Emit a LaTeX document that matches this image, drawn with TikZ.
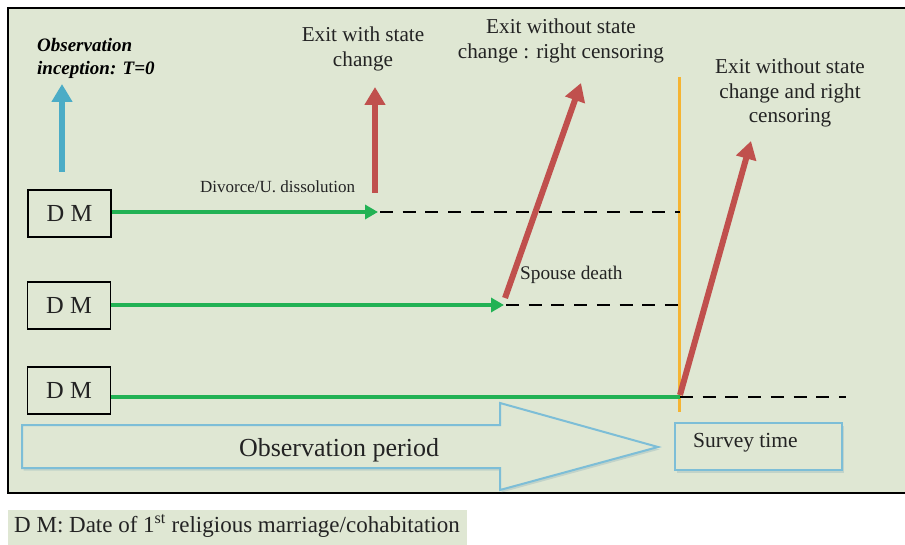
\documentclass[tikz,border=0pt]{standalone}
\usepackage{fontspec}
\setmainfont{Liberation Serif}
\usetikzlibrary{arrows.meta,shadows}
\definecolor{bgg}{RGB}{223,231,211}
\definecolor{grn}{RGB}{34,178,84}
\definecolor{redar}{RGB}{192,80,77}
\definecolor{bluar}{RGB}{75,172,198}
\definecolor{orng}{RGB}{245,180,50}
\definecolor{lblue}{RGB}{125,190,215}
\definecolor{txt}{RGB}{35,35,35}
\tikzset{
  dmbox/.style={draw=black,line width=1.3pt,minimum width=83pt,minimum height=47pt,inner sep=0pt,font=\fontsize{24.5}{26}\selectfont,text=txt},
  greenline/.style={draw=grn,line width=4pt},
  greenarrow/.style={greenline,-{Triangle[length=13pt,width=14pt]}},
  dashline/.style={draw=black,line width=2.6pt,dash pattern=on 13pt off 9.7pt},
  redarrow/.style={draw=redar,line width=6pt,-{Triangle[length=18pt,width=20pt]}},
  bluearrow/.style={draw=bluar,line width=6pt,-{Triangle[length=18pt,width=20pt]}},
  lbl/.style={align=center,font=\fontsize{21.2}{24.5}\selectfont,text=txt,inner sep=0pt},
  shad/.style={drop shadow={opacity=0.3,shadow xshift=1.5pt,shadow yshift=-2.5pt,fill=lblue!60!gray}}
}
\begin{document}
\begin{tikzpicture}[x=1pt,y=-1pt]
\useasboundingbox (0,0) rectangle (905,545);
% background frame
\fill[white] (0,0) rectangle (905,545);
\path[fill=bgg,draw=black,line width=2pt] (8,8) rectangle (915,493);
% legend
\fill[bgg] (8,510) rectangle (467,545);
\node[anchor=west,font=\fontsize{23}{25}\selectfont,text=txt,inner sep=0pt] (legend) at (14,526) {D M: Date of 1\textsuperscript{st} religious marriage/cohabitation};
% big arrow
\path[draw=lblue,line width=2pt,fill=bgg,shad] (22,425) -- (500,425) -- (500,403) -- (658,447) -- (500,490) -- (500,468) -- (22,468) -- cycle;
\node[font=\fontsize{26}{28}\selectfont,text=txt,inner sep=0pt] (period) at (339,450) {Observation period};
% survey box
\node[draw=lblue,line width=2pt,fill=bgg,shad,minimum width=167pt,minimum height=47pt,inner sep=0pt] (survey) at (758.5,446.5) {};
\node[anchor=west,font=\fontsize{21.5}{24}\selectfont,text=txt,inner sep=0pt] (surveytxt) at (693,443) {Survey time};
% orange line
\coordinate (o1) at (679,77);
\coordinate (o2) at (679,412);
\draw[orng,line width=3pt] (o1) -- (o2);
% DM boxes
\node[dmbox] (dm1) at (69.5,213.5) {D M};
\node[dmbox] (dm2) at (69,305.5) {D M};
\node[dmbox] (dm3) at (69,390.5) {D M};
% coordinates
\coordinate (e1) at (378,212);
\coordinate (e2) at (504,305);
\coordinate (e3) at (680,397);
\coordinate (d1) at (680,212);
\coordinate (d2) at (678,305);
\coordinate (d3) at (846,397);
% green lines
\draw[greenarrow] (dm1.east |- e1) -- (e1);
\draw[greenarrow] (dm2.east |- e2) -- (e2);
\draw[greenline] (dm3.east |- e3) -- (e3);
% dashed
\draw[dashline] (e1) ++(2,0) -- (d1);
\draw[dashline] (e2) ++(2,0) -- (d2);
\draw[dashline] (e3) -- (d3);
% arrows
\coordinate (b0) at (62,172);
\coordinate (b1) at (62,84);
\draw[bluearrow] (b0) -- (b1);
\coordinate (ra0) at (375,193);
\coordinate (ra1) at (375,87);
\draw[redarrow] (ra0) -- (ra1);
\coordinate (rb0) at (505,298);
\coordinate (rb1) at (581,83);
\draw[redarrow] (rb0) -- (rb1);
\coordinate (rc0) at (680,395);
\coordinate (rc1) at (751,141);
\draw[redarrow] (rc0) -- (rc1);
% labels
\node[anchor=north west,align=left,font=\bfseries\itshape\fontsize{19}{23}\selectfont,text=black,inner sep=0pt] (obs) at (37,38) {Observation\\inception: T=0};
\node[lbl,anchor=north] (exit1) at (363,27) {Exit with state\\change};
\node[lbl,anchor=north] (exit2) at (561,19) {Exit without state\\change : right censoring};
\node[lbl,anchor=north] (exit3) at (790,59) {Exit without state\\change and right\\censoring};
\node[anchor=west,font=\fontsize{17}{19}\selectfont,text=txt,inner sep=0pt] (div) at (200,187) {Divorce/U. dissolution};
\node[anchor=west,font=\fontsize{19.3}{21}\selectfont,text=txt,inner sep=0pt] (spouse) at (520,275) {Spouse death};
\end{tikzpicture}
\end{document}
